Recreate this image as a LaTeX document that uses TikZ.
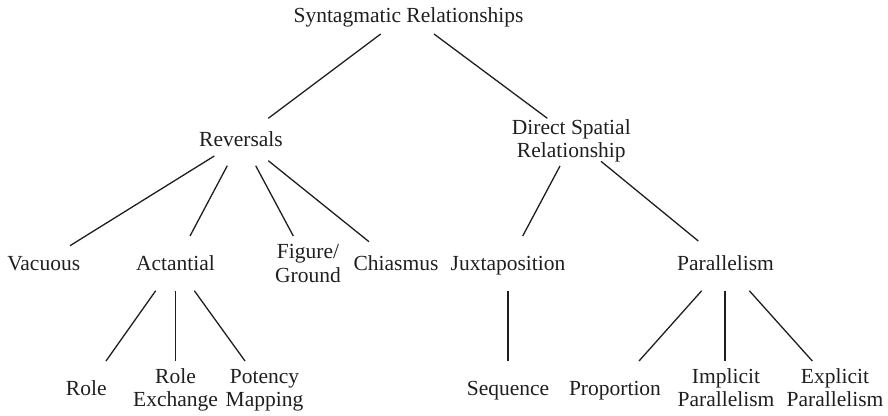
\documentclass[tikz,border=0pt]{standalone}
\usepackage{fontspec}
\setmainfont{Liberation Serif}
\begin{document}
\begin{tikzpicture}[x=1pt,y=-1pt,
  lbl/.style={anchor=base,inner sep=0pt,text=black!88,
    font=\fontsize{21.5}{23.5}\selectfont},
  link/.style={line width=1.3pt,draw=black!88}]
\useasboundingbox (0,0) rectangle (888,415);
\newcommand{\twoline}[2]{\begin{tabular}[t]{@{}c@{}}#1\\#2\end{tabular}}

% root
\node[lbl] (syn) at (408.5,23) {Syntagmatic Relationships};
% second level
\node[lbl] (rev) at (241,146.7) {Reversals};
\node[lbl] (dsr) at (571.3,134.3) {\twoline{Direct Spatial}{Relationship}};
% third level
\node[lbl] (vac) at (43.7,270.7) {Vacuous};
\node[lbl] (act) at (175.5,270.7) {Actantial};
\node[lbl] (fig) at (308,258.7) {\twoline{Figure/}{Ground}};
\node[lbl] (chi) at (396,270.7) {Chiasmus};
\node[lbl] (jux) at (508,270.7) {Juxtaposition};
\node[lbl] (par) at (725.5,270.7) {Parallelism};
% leaves
\node[lbl] (role) at (86.3,395) {Role};
\node[lbl] (rex) at (175.5,383.3) {\twoline{Role}{Exchange}};
\node[lbl] (pot) at (264.5,383.3) {\twoline{Potency}{Mapping}};
\node[lbl] (seq) at (508,395) {Sequence};
\node[lbl] (pro) at (615,395) {Proportion};
\node[lbl] (imp) at (726,383.3) {\twoline{Implicit}{Parallelism}};
\node[lbl] (exp) at (835,383.3) {\twoline{Explicit}{Parallelism}};

% connectors
\draw[link] ([shift={(-27.8,11)}]syn.base) -- ([shift={(27.3,-28.4)}]rev.base);
\draw[link] ([shift={(25.5,11)}]syn.base) -- ([shift={(-24,-16)}]dsr.base);

\draw[link] ([shift={(-26.7,9.3)}]rev.base) -- ([shift={(26.3,-25)}]vac.base);
\draw[link] ([shift={(-13.7,19)}]rev.base) -- ([shift={(14.5,-34.7)}]act.base);
\draw[link] ([shift={(14.7,19)}]rev.base) -- ([shift={(-14.7,-22.7)}]fig.base);
\draw[link] ([shift={(27.3,14)}]rev.base) -- ([shift={(-27,-29)}]chi.base);

\draw[link] ([shift={(-11.3,31.7)}]dsr.base) -- ([shift={(14.7,-34.7)}]jux.base);
\draw[link] ([shift={(29.7,27)}]dsr.base) -- ([shift={(-27.2,-29.7)}]par.base);

\draw[link] ([shift={(-19.8,20)}]act.base) -- ([shift={(19.7,-34)}]role.base);
\draw[link] ([shift={(0,20)}]act.base) -- ([shift={(0,-22.3)}]rex.base);
\draw[link] ([shift={(18.8,20)}]act.base) -- ([shift={(-19.5,-22.3)}]pot.base);

\draw[link] ([shift={(0,20)}]jux.base) -- ([shift={(0,-34)}]seq.base);

\draw[link] ([shift={(-23.8,20)}]par.base) -- ([shift={(24,-34)}]pro.base);
\draw[link] ([shift={(-0.5,20)}]par.base) -- ([shift={(-1,-22.3)}]imp.base);
\draw[link] ([shift={(23.8,20)}]par.base) -- ([shift={(-22.7,-22.3)}]exp.base);
\end{tikzpicture}
\end{document}
